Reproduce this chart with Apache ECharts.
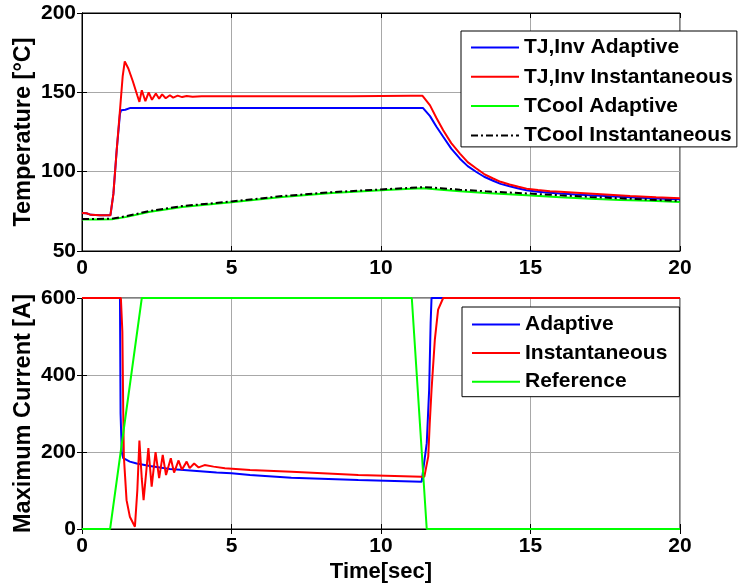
<!DOCTYPE html>
<html>
<head>
<meta charset="utf-8">
<script src="https://cdn.jsdelivr.net/npm/echarts@6/dist/echarts.min.js"></script>
<style>
  html, body { margin: 0; padding: 0; background: #fff; }
  #chart { width: 741px; height: 588px; }
</style>
</head>
<body>
<div id="chart"></div>
<script>
// ---- Temperature panel (upper) ----
const tjAdaptiveT = [0, 0.15, 0.3, 0.6, 0.95, 1.05, 1.16, 1.27, 1.31, 1.45, 1.62, 3, 6, 9, 11.0, 11.4, 11.64, 11.85, 12.08, 12.35, 12.64, 12.9, 13.19, 13.45, 13.75, 14.0, 14.3, 14.6, 14.87, 15.25, 15.65, 16.0, 16.66, 17.5, 18.33, 19.2, 20];
const tjAdaptiveV = [74, 73.8, 72.8, 72.5, 72.5, 86, 113.5, 136.5, 138.7, 139, 140.2, 140.2, 140.2, 140.2, 140.2, 140.2, 135, 128.5, 122, 114.5, 108.2, 103.5, 99.8, 96.8, 94.3, 92.3, 90.8, 89.4, 88.3, 87.4, 86.7, 86.2, 85.4, 84.6, 83.8, 83.1, 82.6];

const tjInstT = [0, 0.15, 0.3, 0.6, 0.95, 1.05, 1.16, 1.27, 1.36, 1.43, 1.55, 1.7, 1.85, 1.92, 2.0, 2.12, 2.23, 2.34, 2.47, 2.58, 2.68, 2.8, 2.94, 3.05, 3.2, 3.35, 3.5, 3.7, 4.0, 5, 7, 9, 11.0, 11.39, 11.64, 11.85, 12.08, 12.35, 12.64, 12.9, 13.19, 13.45, 13.75, 14.0, 14.3, 14.6, 14.87, 15.25, 15.65, 16.0, 16.66, 17.5, 18.33, 19.2, 20];
const tjInstV = [74, 73.8, 72.8, 72.5, 72.5, 86, 113.5, 138.7, 160, 169.5, 165, 157, 148, 144, 151.3, 144.4, 150, 145.3, 149.3, 146, 148.7, 146.3, 148.2, 146.7, 147.9, 147, 147.7, 147.2, 147.5, 147.5, 147.5, 147.6, 147.8, 147.8, 141.8, 134, 126.1, 118, 111.4, 106, 102, 98.5, 95.7, 93.6, 91.9, 90.5, 89.3, 88.4, 87.6, 87.3, 86.6, 85.6, 84.6, 83.8, 83.2];

const coolT = [0, 0.5, 1.0, 1.5, 2.23, 3.35, 5, 6.69, 8.36, 10, 11.0, 11.42, 12.0, 12.64, 13.5, 14.87, 16.0, 17.0, 18.0, 19.0, 20];
const coolAdaptiveV = [69.8, 69.8, 70, 71.5, 74.6, 77.8, 80.7, 84.1, 86.6, 88.3, 89.2, 89.5, 88.6, 87.6, 86.6, 85.1, 83.9, 83.0, 82.2, 81.6, 80.9];
const coolInstV = [70.2, 70.2, 70.4, 72.0, 75.1, 78.3, 81.2, 84.6, 87.1, 88.8, 89.8, 90.3, 89.6, 88.6, 87.6, 86.3, 85.1, 84.1, 83.2, 82.3, 81.6];

// ---- Current panel (lower) ----
const curAdaptiveT = [0, 1.27, 1.29, 1.33, 1.38, 1.6, 1.83, 2.27, 2.94, 3.4, 4.5, 5.0, 5.62, 7.0, 9.24, 11.36, 11.41, 11.53, 11.61, 11.66, 11.69, 20];
const curAdaptiveV = [600, 600, 300, 200, 184, 175, 170, 163.8, 156, 153.5, 146.5, 145, 140.4, 133.4, 127.4, 123, 123, 223, 361, 535, 600, 600];

const curInstT = [0, 1.3, 1.35, 1.38, 1.4, 1.49, 1.6, 1.77, 1.85, 1.92, 2.0, 2.06, 2.15, 2.22, 2.33, 2.46, 2.58, 2.7, 2.81, 2.97, 3.08, 3.23, 3.34, 3.5, 3.6, 3.75, 3.9, 4.1, 4.4, 4.78, 5.62, 7.01, 9.24, 11.36, 11.45, 11.58, 11.63, 11.69, 11.8, 11.91, 12.08, 20];
const curInstV = [600, 600, 513, 300, 188, 75, 32, 6, 100, 229.6, 130, 75, 150, 210, 110, 199.5, 132, 192.5, 140, 184, 146.5, 178, 154, 175, 158, 170, 160, 166, 162, 157.9, 153.5, 149, 140.4, 136, 136, 188, 275, 361, 491, 570, 600, 600];

const refT = [0, 0.94, 2.0, 11.03, 11.53, 20];
const refV = [0, 0, 600, 600, 0, 0];

// ---- Axis ticks ----
const timeTicks = [0, 5, 10, 15, 20];
const tempTicks = [50, 100, 150, 200];
const currentTicks = [0, 200, 400, 600];

const zip = (ts, vs) => ts.map((t, i) => [t, vs[i]]);

const FONT = 'Arial, "Liberation Sans", sans-serif';
const BLUE = '#0000ff', RED = '#ff0000', GREEN = '#00ff00', BLACK = '#000000';
const TICK_FONT = 21;

function bottomX(gridIndex, withName) {
  return {
    type: 'value', gridIndex, min: timeTicks[0], max: timeTicks[timeTicks.length - 1],
    interval: timeTicks[1] - timeTicks[0],
    axisLine: { show: true, lineStyle: { color: '#000', width: 1 } },
    axisTick: { show: true, inside: true, length: 5, lineStyle: { color: '#000' } },
    axisLabel: { color: '#000', fontFamily: FONT, fontWeight: 'bold', fontSize: TICK_FONT, margin: 7 },
    splitLine: { show: true, lineStyle: { color: '#a8a8a8', width: 1 } },
    name: withName ? 'Time[sec]' : '', nameLocation: 'middle', nameGap: 32, nameMoveOverlap: false,
    nameTextStyle: { color: '#000', fontFamily: FONT, fontWeight: 'bold', fontSize: 22 }
  };
}
function topX(gridIndex) {
  return {
    type: 'value', gridIndex, position: 'top', min: timeTicks[0], max: timeTicks[timeTicks.length - 1],
    interval: timeTicks[1] - timeTicks[0],
    axisLine: { show: true, lineStyle: { color: '#000', width: 1 } },
    axisTick: { show: true, inside: true, length: 5, lineStyle: { color: '#000' } },
    axisLabel: { show: false }, splitLine: { show: false }
  };
}
function leftY(gridIndex, ticks, name) {
  return {
    type: 'value', gridIndex, min: ticks[0], max: ticks[ticks.length - 1], interval: ticks[1] - ticks[0],
    axisLine: { show: true, lineStyle: { color: '#000', width: 1 } },
    axisTick: { show: true, inside: true, length: 5, lineStyle: { color: '#000' } },
    axisLabel: { color: '#000', fontFamily: FONT, fontWeight: 'bold', fontSize: TICK_FONT, margin: 6 },
    splitLine: { show: true, lineStyle: { color: '#a8a8a8', width: 1 } },
    name, nameLocation: 'middle', nameGap: 46, nameRotate: 90, nameMoveOverlap: false,
    nameTextStyle: { color: '#000', fontFamily: FONT, fontWeight: 'bold', fontSize: 23.5 }
  };
}
function rightY(gridIndex, ticks) {
  return {
    type: 'value', gridIndex, position: 'right', min: ticks[0], max: ticks[ticks.length - 1], interval: ticks[1] - ticks[0],
    axisLine: { show: true, lineStyle: { color: '#000', width: 1 } },
    axisTick: { show: true, inside: true, length: 5, lineStyle: { color: '#000' } },
    axisLabel: { show: false }, splitLine: { show: false }
  };
}
function line(name, data, color, xAxisIndex, yAxisIndex, dash) {
  return {
    type: 'line', name, data, xAxisIndex, yAxisIndex,
    symbol: 'none', animation: false,
    lineStyle: { color, width: 2, type: dash || 'solid' },
    itemStyle: { color }
  };
}

const legendText = { color: '#000', fontFamily: FONT, fontWeight: 'bold', fontSize: 21, lineHeight: 20 };
// legend keys are plain line samples, no marker in the middle
const legendMarker = { color: 'rgba(0,0,0,0)', borderWidth: 0, opacity: 0 };

const chart = echarts.init(document.getElementById('chart'), null, { renderer: 'canvas' });
chart.setOption({
  backgroundColor: '#fff',
  animation: false,
  grid: [
    { left: 82, right: 61, top: 13, height: 238, show: true, borderColor: '#000', borderWidth: 1, backgroundColor: 'transparent', containLabel: false, outerBoundsMode: 'none' },
    { left: 82, right: 61, top: 298, height: 231, show: true, borderColor: '#000', borderWidth: 1, backgroundColor: 'transparent', containLabel: false, outerBoundsMode: 'none' }
  ],
  xAxis: [bottomX(0, false), bottomX(1, true), topX(0), topX(1)],
  yAxis: [leftY(0, tempTicks, 'Temperature [°C]'), leftY(1, currentTicks, 'Maximum Current [A]'), rightY(0, tempTicks), rightY(1, currentTicks)],
  legend: [
    {
      data: ['TJ,Inv Adaptive', 'TJ,Inv Instantaneous', 'TCool Adaptive', 'TCool Instantaneous'],
      orient: 'vertical', left: 461, top: 31,
      padding: [6, 4, 1, 9], itemGap: 8.3, itemWidth: 48, itemHeight: 20,
      backgroundColor: '#fff', borderColor: '#000', borderWidth: 1, borderRadius: 0,
      itemStyle: legendMarker,
      textStyle: legendText, selectedMode: false
    },
    {
      data: ['Adaptive', 'Instantaneous', 'Reference'],
      orient: 'vertical', left: 462, top: 307,
      padding: [7, 12, 4.5, 9], itemGap: 7.6, itemWidth: 48, itemHeight: 20,
      backgroundColor: '#fff', borderColor: '#000', borderWidth: 1, borderRadius: 0,
      itemStyle: legendMarker,
      textStyle: legendText, selectedMode: false
    }
  ],
  series: [
    line('TJ,Inv Adaptive', zip(tjAdaptiveT, tjAdaptiveV), BLUE, 0, 0),
    line('TJ,Inv Instantaneous', zip(tjInstT, tjInstV), RED, 0, 0),
    line('TCool Adaptive', zip(coolT, coolAdaptiveV), GREEN, 0, 0),
    line('TCool Instantaneous', zip(coolT, coolInstV), BLACK, 0, 0, [7, 3, 2, 3]),
    line('Adaptive', zip(curAdaptiveT, curAdaptiveV), BLUE, 1, 1),
    line('Instantaneous', zip(curInstT, curInstV), RED, 1, 1),
    line('Reference', zip(refT, refV), GREEN, 1, 1)
  ]
});
</script>
</body>
</html>
